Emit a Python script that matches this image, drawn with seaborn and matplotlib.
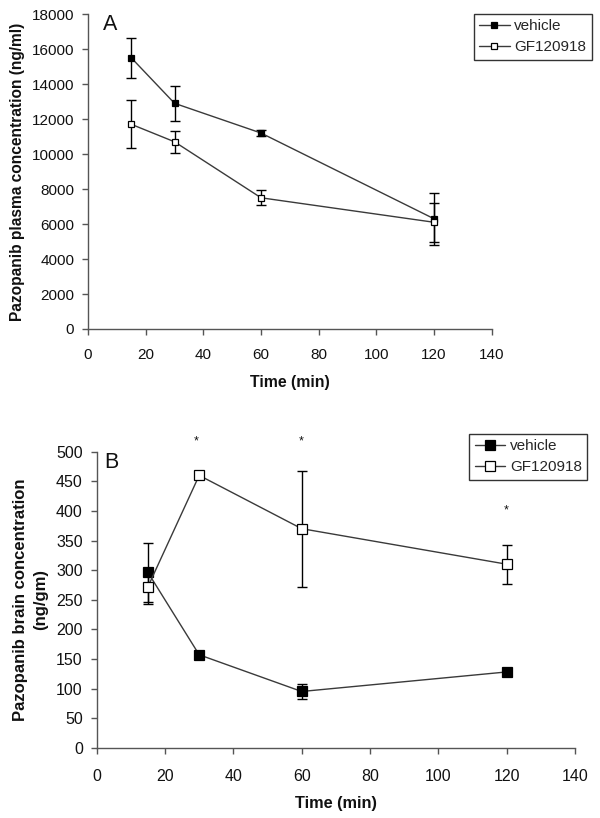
import numpy as np
import pandas as pd
import matplotlib
matplotlib.use("Agg")
import matplotlib.pyplot as plt
import seaborn as sns

sns.set_theme(style="ticks")
plt.rcParams['font.family'] = ['Liberation Sans', 'DejaVu Sans']

# ---------------- data ----------------
time_pts = [15, 30, 60, 120]

# Panel A: plasma concentration (ng/ml)
plasma_vehicle = [15500, 12900, 11200, 6300]
plasma_vehicle_err = [1150, 1000, 150, 1500]
plasma_gf = [11700, 10700, 7500, 6100]
plasma_gf_err = [1380, 620, 430, 1100]

# Panel B: brain concentration (ng/gm)
brain_vehicle = [296, 157, 95, 128]
brain_vehicle_err = [50, 5, 12, 5]
brain_gf = [272, 460, 370, 310]
brain_gf_err = [29, 6, 98, 33]

star_x = [29, 60, 120]
star_y = [518, 518, 400]

groups = ["vehicle", "GF120918"]

line_col = "#3a3a3a"
axis_col = "#555555"


def panel(ax, vals_v, err_v, vals_g, err_g, msize, tick_size, xpad,
          xlab_size):
    df = pd.DataFrame({
        "time": time_pts * 2,
        "conc": list(vals_v) + list(vals_g),
        "group": [groups[0]] * 4 + [groups[1]] * 4,
    })
    for g, face in zip(groups, ["black", "white"]):
        sub = df[df["group"] == g]
        sns.lineplot(data=sub, x="time", y="conc", ax=ax, color=line_col,
                     linewidth=1.0, marker="s", markersize=msize,
                     markerfacecolor=face, markeredgecolor="black",
                     markeredgewidth=0.9, label=g, zorder=3)
    ax.errorbar(time_pts, vals_v, yerr=err_v, fmt="none", ecolor="black",
                elinewidth=1.0, capsize=3.5, capthick=1.0, zorder=2)
    ax.errorbar(time_pts, vals_g, yerr=err_g, fmt="none", ecolor="black",
                elinewidth=1.0, capsize=3.5, capthick=1.0, zorder=2)
    ax.set_xlim(0, 140)
    ax.set_xticks(range(0, 141, 20))
    for s in ["top", "right"]:
        ax.spines[s].set_visible(False)
    for s in ["left", "bottom"]:
        ax.spines[s].set_color(axis_col)
        ax.spines[s].set_linewidth(1.0)
    ax.tick_params(axis="both", colors=axis_col, labelcolor="#111111",
                   labelsize=tick_size, length=4, width=1.0, direction="out")
    ax.tick_params(axis="x", pad=xpad)
    ax.tick_params(axis="y", pad=6)
    ax.set_xlabel("Time (min)", fontsize=xlab_size, fontweight="bold",
                  color="#111111", labelpad=9)
    leg = ax.legend(loc="upper right", frameon=True, fancybox=False,
                    edgecolor="black", fontsize=11, handlelength=2.0,
                    handletextpad=0.3, borderpad=0.35, labelspacing=0.45,
                    borderaxespad=0.0)
    leg.get_frame().set_linewidth(1.0)
    return ax


fig = plt.figure(figsize=(6.0, 8.18), dpi=100)

axA = fig.add_axes([0.1467, 0.5978, 0.6728, 0.385])
panel(axA, plasma_vehicle, plasma_vehicle_err, plasma_gf, plasma_gf_err,
      4.5, 11, 10, 11.4)
axA.set_ylim(0, 18000)
axA.set_yticks(range(0, 18001, 2000))
axA.set_ylabel("Pazopanib plasma concentration (ng/ml)", fontsize=11.2,
               fontweight="bold", color="#111111", labelpad=5)
axA.text(0.038, 1.0, "A", transform=axA.transAxes, fontsize=15.5,
         va="top", ha="left", color="#111111")
axA.legend_.set_bbox_to_anchor((1.2475, 1.0), transform=axA.transAxes)

axB = fig.add_axes([0.1612, 0.0859, 0.797, 0.3619])
panel(axB, brain_vehicle, brain_vehicle_err, brain_gf, brain_gf_err,
      6.5, 11.5, 11, 11.7)
axB.set_ylim(0, 500)
axB.set_yticks(range(0, 501, 50))
axB.set_ylabel("Pazopanib brain concentration\n(ng/gm)", fontsize=12,
               fontweight="bold", color="#111111", labelpad=6,
               linespacing=1.4)
axB.text(0.016, 1.0, "B", transform=axB.transAxes, fontsize=15.5,
         va="top", ha="left", color="#111111")
axB.legend_.set_bbox_to_anchor((1.0257, 1.0598), transform=axB.transAxes)
for sx, sy in zip(star_x, star_y):
    axB.text(sx, sy, "*", ha="center", va="center", fontsize=9,
             color="#111111", clip_on=False)

fig.savefig("out.png", dpi=100)
